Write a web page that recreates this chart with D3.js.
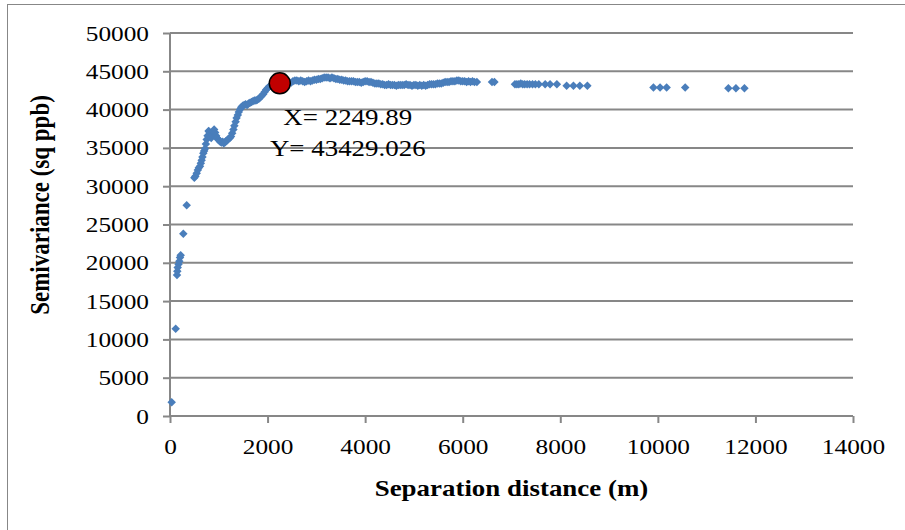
<!DOCTYPE html>
<html>
<head>
<meta charset="utf-8">
<script src="https://cdn.jsdelivr.net/npm/d3@7"></script>
<style>
  html, body { margin: 0; padding: 0; background: #fff; }
  svg { display: block; }
</style>
</head>
<body>
<svg id="chart" width="905" height="530"></svg>
<script>
// Empirical semivariogram: lag distance (m) and semivariance (sq ppb)
const lagDistance = [
  35, 117, 143, 150, 158, 175, 191, 205, 219, 273, 342,
  499, 520, 547, 570, 590, 615, 632, 649, 665, 683, 700, 717, 735, 752, 770, 790,
  806, 825, 845, 865, 885, 905, 925, 945, 965, 985, 1005, 1030, 1055, 1080, 1100,
  1125, 1150, 1175, 1200, 1225, 1250, 1275, 1300, 1320, 1345, 1365, 1390, 1410,
  1435, 1460, 1490, 1520, 1550, 1580, 1610, 1640, 1670, 1700, 1730, 1760, 1790,
  1820, 1850, 1880, 1910, 1940, 1970, 2000, 2030, 2060, 2090, 2120, 2150, 2180, 2210,
  2280, 2320, 2360, 2400, 2440, 2480, 2520, 2560, 2600, 2640, 2680, 2720, 2760,
  2800, 2840, 2880, 2920, 2960, 3000, 3040, 3080, 3120, 3160, 3200, 3240, 3280,
  3320, 3360, 3400, 3440, 3480, 3520, 3560, 3600, 3640, 3680, 3720, 3760, 3800,
  3840, 3880, 3920, 3960, 4000, 4040, 4080, 4120, 4160, 4200, 4240, 4280, 4320,
  4360, 4400, 4440, 4480, 4520, 4560, 4600, 4640, 4680, 4720, 4760, 4800, 4840,
  4880, 4920, 4960, 5000, 5040, 5080, 5120, 5160, 5200, 5240, 5280, 5320, 5360,
  5400, 5440, 5480, 5520, 5560, 5600, 5640, 5680, 5720, 5760, 5800, 5840, 5880,
  5920, 5960, 6000, 6040, 6080, 6120, 6160, 6200, 6240, 6290,
  6600, 6650,
  7070, 7110, 7150, 7190, 7230, 7270, 7320, 7370, 7430, 7490, 7560, 7690, 7790, 7930,
  8130, 8270, 8400, 8555,
  9910, 10045, 10180, 10560,
  11445, 11600, 11775
];
const semivariance = [
  1800, 11400, 18400, 18900, 19400, 19800, 20200, 20700, 21000, 23800, 27500,
  31100, 31300, 31700, 32100, 32400, 32600, 33000, 33400, 33800, 34300, 34600, 34900, 35500, 36100, 36600, 37200,
  37100, 36600, 36300, 36700, 37100, 37400, 37000, 36600, 36300, 36100, 36000, 35800, 35700, 35800, 35600,
  35700, 35900, 36000, 36200, 36300, 36500, 36900, 37400, 37900, 38400, 38900, 39300, 39700,
  40000, 40300, 40500, 40600, 40700, 40600, 40800, 40900, 41000, 41100, 41200, 41200, 41300,
  41400, 41600, 41800, 42000, 42300, 42600, 42800, 43000, 43100, 43300, 43300, 43400, 43300, 43400,
  43500, 43600, 43500, 43500, 43600, 43500, 43700, 43800, 43800, 43700, 43800, 43700, 43600,
  43700, 43800, 43700, 43800, 43900, 43900, 44000, 44000, 44100, 44200, 44200, 44200, 44100,
  44200, 44100, 44000, 44000, 43900, 43900, 43800, 43800, 43700, 43700, 43700, 43700, 43600,
  43600, 43600, 43500, 43600, 43700, 43700, 43600, 43600, 43500, 43400, 43400, 43400, 43300,
  43300, 43200, 43200, 43300, 43200, 43200, 43200, 43100, 43200, 43200, 43200, 43200, 43300,
  43200, 43200, 43100, 43200, 43200, 43100, 43200, 43100, 43200, 43100, 43200, 43300, 43300,
  43300, 43300, 43400, 43400, 43400, 43500, 43600, 43600, 43600, 43700, 43700, 43700, 43800,
  43800, 43700, 43700, 43700, 43600, 43700, 43600, 43700, 43600, 43600,
  43600, 43600,
  43300, 43300, 43300, 43400, 43300, 43300, 43300, 43300, 43300, 43300, 43300, 43300, 43300, 43300,
  43100, 43100, 43100, 43100,
  42900, 42900, 42900, 42900,
  42800, 42800, 42800
];

// Highlighted range point
const rangePoint = { x: 2249.89, y: 43429.026 };
const rangeLabels = ["X= 2249.89", "Y= 43429.026"];

const xTicks = [0, 2000, 4000, 6000, 8000, 10000, 12000, 14000];
const yTicks = [0, 5000, 10000, 15000, 20000, 25000, 30000, 35000, 40000, 45000, 50000];
const xTitle = "Separation distance (m)";
const yTitle = "Semivariance (sq ppb)";

const svg = d3.select("#chart");
const plotLeft = 170, plotRight = 853, plotTop = 33, plotBottom = 416;
const gray = "#878787";
const serif = "'Liberation Serif', 'Times New Roman', serif";

// Widen text glyphs horizontally, keeping the anchor in place
function widen(sel, factor) {
  sel.each(function () {
    const w = this.getComputedTextLength();
    d3.select(this)
      .attr("textLength", w * factor)
      .attr("lengthAdjust", "spacingAndGlyphs");
  });
}

// Chart frame
svg.append("rect")
  .attr("x", 7.5).attr("y", 4.5)
  .attr("width", 905).attr("height", 540)
  .attr("fill", "none").attr("stroke", gray).attr("stroke-width", 1);

const x = d3.scaleLinear().domain([0, 14000]).range([plotLeft, plotRight]);
const y = d3.scaleLinear().domain([0, 50000]).range([plotBottom, plotTop]);

// Horizontal gridlines
svg.append("g")
  .selectAll("line")
  .data(yTicks.filter(t => t > 0))
  .join("line")
  .attr("x1", plotLeft).attr("x2", plotRight)
  .attr("y1", d => y(d)).attr("y2", d => y(d))
  .attr("stroke", gray).attr("stroke-width", 2);

// Y axis
const yAxis = svg.append("g")
  .attr("transform", `translate(${plotLeft},0)`)
  .call(d3.axisLeft(y).tickValues(yTicks).tickFormat(d3.format("d")).tickSize(7).tickPadding(14));
// X axis
const xAxis = svg.append("g")
  .attr("transform", `translate(0,${plotBottom})`)
  .call(d3.axisBottom(x).tickValues(xTicks).tickFormat(d3.format("d")).tickSize(7).tickPadding(15));

[yAxis, xAxis].forEach(g => {
  g.select(".domain").attr("stroke", gray).attr("stroke-width", 2);
  g.selectAll(".tick line").attr("stroke", gray).attr("stroke-width", 2);
  g.selectAll(".tick text")
    .attr("fill", "#000")
    .style("font-family", serif)
    .style("font-size", "22px")
    .call(widen, 1.15);
});
xAxis.select(".domain").attr("d", `M${plotLeft},0H${plotRight}`);
yAxis.select(".domain").attr("d", `M0,${plotBottom}V${plotTop}`);

// Scatter markers (diamonds)
const diamond = d3.symbol().type(d3.symbolSquare).size(36);
svg.append("g")
  .selectAll("path")
  .data(lagDistance.map((d, i) => ({ x: d, y: semivariance[i] })))
  .join("path")
  .attr("d", diamond)
  .attr("transform", d => `translate(${x(d.x)},${y(d.y)}) rotate(45)`)
  .attr("fill", "#4a7ebb");

// Range point
svg.append("circle")
  .attr("cx", x(rangePoint.x)).attr("cy", y(rangePoint.y))
  .attr("r", 10.5)
  .attr("fill", "#c00000").attr("stroke", "#000").attr("stroke-width", 1.5);

svg.append("g")
  .selectAll("text")
  .data(rangeLabels)
  .join("text")
  .attr("x", x(rangePoint.x) + 68)
  .attr("y", (d, i) => y(rangePoint.y) + 42 + i * 31)
  .attr("text-anchor", "middle")
  .style("font-family", serif)
  .style("font-size", "23px")
  .text(d => d)
  .call(widen, 1.17);

// Axis titles
svg.append("text")
  .attr("x", (plotLeft + plotRight) / 2).attr("y", 496)
  .attr("text-anchor", "middle")
  .style("font-family", serif).style("font-size", "23px").style("font-weight", "bold")
  .text(xTitle)
  .call(widen, 1.17);

svg.append("text")
  .attr("transform", `translate(49,205) scale(1.17,1) rotate(-90)`)
  .attr("text-anchor", "middle")
  .style("font-family", serif).style("font-size", "23px").style("font-weight", "bold")
  .text(yTitle);
</script>
</body>
</html>
